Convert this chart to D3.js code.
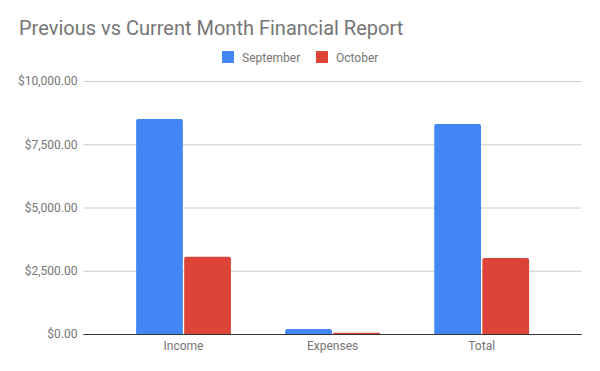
<!DOCTYPE html>
<html>
<head>
<meta charset="utf-8">
<script src="https://cdn.jsdelivr.net/npm/d3@7"></script>
<style>
  html, body { margin: 0; padding: 0; background: #fff; }
  svg { display: block; font-family: Roboto, "Noto Sans", sans-serif; }
</style>
</head>
<body>
<svg id="chart" width="600" height="371"></svg>
<script>
const categories = ["Income", "Expenses", "Total"];
const seriesNames = ["September", "October"];
const september = [8500, 200, 8300];
const october = [3050, 50, 3000];
const yTicks = [0, 2500, 5000, 7500, 10000];
const colors = ["#4285f4", "#db4437"];

const seriesValues = [september, october];
const data = categories.map((c, i) => ({
  category: c,
  values: seriesNames.map((s, j) => ({ series: s, value: seriesValues[j][i], idx: j }))
}));

const svg = d3.select("#chart");
const plot = { left: 83.5, right: 581.7, top: 81, bottom: 334 };

// Title
svg.append("text")
  .attr("x", 19)
  .attr("y", 35)
  .attr("fill", "#757575")
  .attr("font-size", 20)
  .text("Previous vs Current Month Financial Report");

// Scales
const y = d3.scaleLinear().domain([0, 10000]).range([plot.bottom, plot.top]);
const x0 = d3.scaleBand().domain(categories)
  .range([plot.left, plot.right]).paddingInner(0.364).paddingOuter(0.353);
const x1 = d3.scaleBand().domain(seriesNames)
  .range([0, x0.bandwidth()]).paddingInner(0.028);

// Gridlines
const fmt = v => "$" + d3.format(",.2f")(v);
const yAxis = d3.axisLeft(y).tickValues(yTicks).tickFormat(fmt)
  .tickSize(-(plot.right - plot.left)).tickPadding(6);
const gy = svg.append("g").attr("transform", `translate(${plot.left},0)`).call(yAxis);
gy.select(".domain").remove();
gy.selectAll(".tick line").attr("stroke", "#cccccc").attr("stroke-width", 1);
gy.selectAll(".tick text")
  .attr("fill", "#757575").attr("font-size", 12)
  .attr("font-family", "Roboto, sans-serif");

// Bars
const groups = svg.append("g").selectAll("g").data(data).join("g")
  .attr("transform", d => `translate(${x0(d.category)},0)`);
groups.selectAll("path").data(d => d.values).join("path")
  .attr("fill", d => colors[d.idx])
  .attr("d", d => {
    const bx = x1(d.series), bw = x1.bandwidth();
    const top = y(d.value), bot = y(0);
    const h = bot - top;
    const r = Math.min(2, h / 2, bw / 2);
    const p = d3.path();
    p.moveTo(bx, bot);
    p.lineTo(bx, top + r);
    p.quadraticCurveTo(bx, top, bx + r, top);
    p.lineTo(bx + bw - r, top);
    p.quadraticCurveTo(bx + bw, top, bx + bw, top + r);
    p.lineTo(bx + bw, bot);
    p.closePath();
    return p.toString();
  });

// Baseline / x axis
const xAxis = d3.axisBottom(x0).tickSize(0).tickPadding(7);
const gx = svg.append("g").attr("transform", `translate(0,${plot.bottom})`).call(xAxis);
gx.select(".domain").attr("d", `M${plot.left},0.5H${plot.right}`).attr("stroke", "#333333");
gx.selectAll(".tick text")
  .attr("fill", "#757575").attr("font-size", 12)
  .attr("font-family", "Roboto, sans-serif");

// Legend
const legendItems = [
  { name: seriesNames[0], color: colors[0], x: 222 },
  { name: seriesNames[1], color: colors[1], x: 316 }
];
const lg = svg.append("g").selectAll("g").data(legendItems).join("g")
  .attr("transform", d => `translate(${d.x},51)`);
lg.append("rect").attr("width", 12).attr("height", 12).attr("fill", d => d.color);
lg.append("text").attr("x", 20).attr("y", 10.5)
  .attr("fill", "#757575").attr("font-size", 12).text(d => d.name);
</script>
</body>
</html>
